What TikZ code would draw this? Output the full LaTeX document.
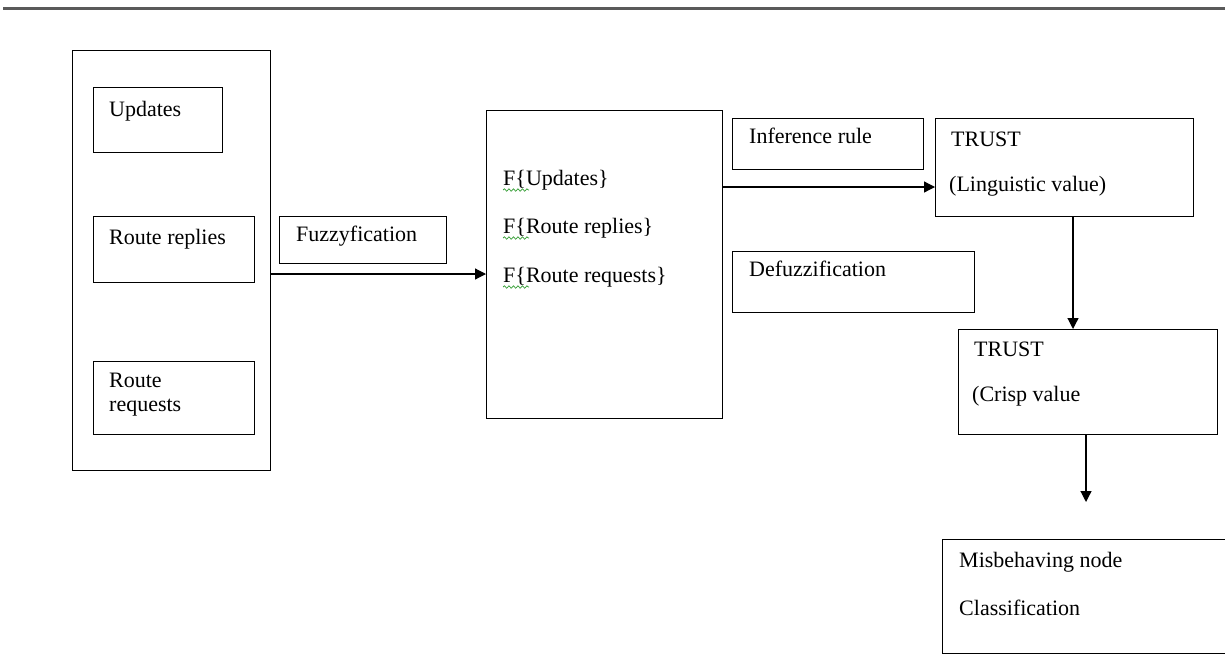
\documentclass[tikz,border=0pt]{standalone}
\usepackage{fontspec}
\setmainfont{Liberation Serif}
\usetikzlibrary{arrows.meta, positioning, decorations.pathmorphing}
\definecolor{rulegray}{HTML}{5A5A5A}
\definecolor{spellgreen}{HTML}{2E9A2E}

\begin{document}
\begin{tikzpicture}[
        x=1pt, y=-1pt,
        box/.style={rectangle, draw, line width=1.2pt, anchor=north west, inner sep=0pt},
        lbl/.style={anchor=base west, inner sep=0pt, font=\fontsize{22}{26}\selectfont},
        line/.style={line width=1.2pt, -{Triangle[length=11pt, width=11pt]}},
        squig/.style={spellgreen, line width=0.7pt, decorate,
                      decoration={snake, amplitude=1.2pt, segment length=4.5pt}}
    ]
    \useasboundingbox (0,0) rectangle (1225,664);
    \draw[rulegray, line width=2.6pt] (3,8.5) -- (1225,8.5);

    % inputs
    \node [box, minimum width=198pt, minimum height=420pt] (inputs) at (72,50) {};
    \node [box, minimum width=129pt, minimum height=65pt] (upd) at (93,87) {};
    \node [box, minimum width=161pt, minimum height=66pt] (rep) at (93,216) {};
    \node [box, minimum width=161pt, minimum height=73pt] (req) at (93,361) {};
    \node [lbl] (upd-t) at (109,116) {Updates};
    \node [lbl] (rep-t) at (109,244) {Route replies};
    \node [lbl] (req-t1) at (109,387) {Route};
    \node [lbl] (req-t2) at (109,411) {requests};

    % fuzzy sets
    \node [box, minimum width=167pt, minimum height=47pt] (fuzz) at (279,216) {};
    \node [lbl] (fuzz-t) at (296,241) {Fuzzyfication};
    \node [box, minimum width=236pt, minimum height=308pt] (fset) at (486,110) {};
    \node [lbl] (fs1) at (503,185) {F\{Updates\}};
    \node [lbl] (fs2) at (503,233) {F\{Route replies\}};
    \node [lbl] (fs3) at (503,282) {F\{Route requests\}};
    \foreach \y in {190,238,287}
        \draw[squig] (503,\y) -- (529,\y);

    % rules and trust
    \node [box, minimum width=191pt, minimum height=51pt] (infer) at (732,118) {};
    \node [lbl] (infer-t) at (749,143) {Inference rule};
    \node [box, minimum width=242pt, minimum height=61pt] (defuzz) at (732,251) {};
    \node [lbl] (defuzz-t) at (749,276) {Defuzzification};
    \node [box, minimum width=258pt, minimum height=98pt] (ling) at (935,118) {};
    \node [lbl] (ling-t1) at (951,146) {TRUST};
    \node [lbl] (ling-t2) at (949,191) {(Linguistic value)};
    \node [box, minimum width=259pt, minimum height=105pt] (crisp) at (958,329) {};
    \node [lbl] (crisp-t1) at (974,356) {TRUST};
    \node [lbl] (crisp-t2) at (972,401) {(Crisp value};
    \node [box, minimum width=290pt, minimum height=114pt] (cls) at (942,539) {};
    \node [lbl] (cls-t1) at (959,567) {Misbehaving node};
    \node [lbl] (cls-t2) at (959,615) {Classification};

    \coordinate (out) at (1086,502);
    \draw[line] (inputs.east |- 0,274) -- (fset.west |- 0,274);
    \draw[line] (fset.east |- 0,187) -- (ling.west |- 0,187);
    \draw[line] (ling.south -| 1073,0) -- (crisp.north -| 1073,0);
    \draw[line] (crisp.south -| out) -- (out);
  \end{tikzpicture}
\end{document}
